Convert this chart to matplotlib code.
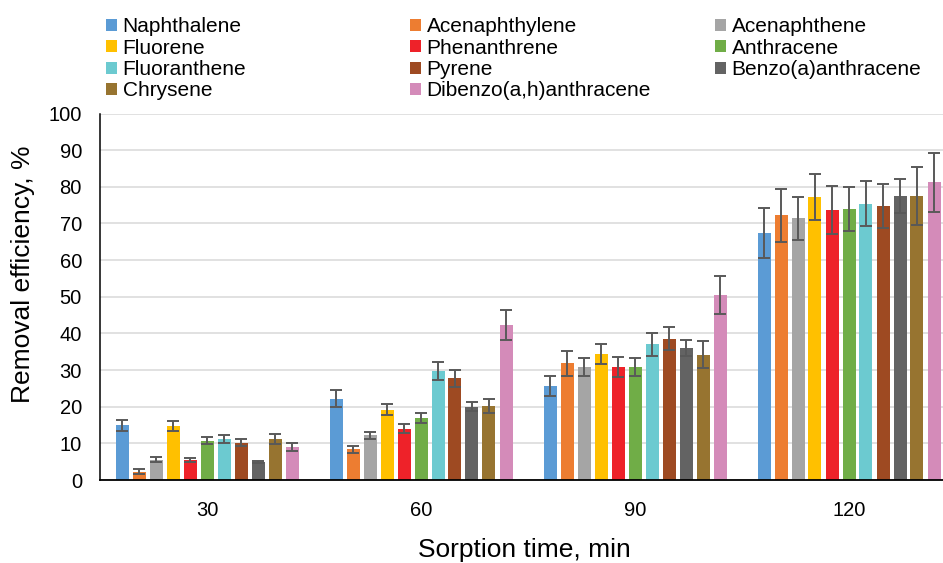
import matplotlib
matplotlib.use("Agg")
import matplotlib.pyplot as plt
import numpy as np

plt.rcParams['font.family'] = ['Liberation Sans', 'DejaVu Sans']

compounds = ["Naphthalene", "Acenaphthylene", "Acenaphthene", "Fluorene",
             "Phenanthrene", "Anthracene", "Fluoranthene", "Pyrene",
             "Benzo(a)anthracene", "Chrysene", "Dibenzo(a,h)anthracene"]
colors = ["#5B9BD5", "#ED7D31", "#A5A5A5", "#FFC000", "#EE2229", "#70AD47",
          "#6CCAD0", "#9E4A22", "#636363", "#977430", "#D48BB9"]

times = ["30", "60", "90", "120"]

eff_30 = [15.0, 2.3, 5.5, 14.8, 5.5, 10.7, 11.2, 10.2, 5.0, 11.2, 9.0]
err_30 = [1.5, 0.6, 0.7, 1.3, 0.6, 1.0, 1.0, 1.0, 0.3, 1.3, 1.0]
eff_60 = [22.2, 8.4, 12.2, 19.2, 14.0, 16.9, 29.8, 27.7, 20.0, 20.2, 42.3]
err_60 = [2.3, 0.9, 1.0, 1.5, 1.3, 1.3, 2.4, 2.2, 1.3, 2.0, 4.2]
eff_90 = [25.7, 31.8, 30.8, 34.4, 30.8, 30.8, 37.0, 38.6, 36.0, 34.2, 50.4]
err_90 = [2.7, 3.4, 2.5, 2.8, 2.8, 2.5, 3.1, 3.2, 2.2, 3.6, 5.2]
eff_120 = [67.5, 72.2, 71.4, 77.2, 73.6, 74.0, 75.4, 74.8, 77.5, 77.5, 81.2]
err_120 = [6.8, 7.3, 5.8, 6.2, 6.6, 6.0, 6.2, 6.1, 4.7, 7.8, 8.1]

eff = np.array([eff_30, eff_60, eff_90, eff_120])
err = np.array([err_30, err_60, err_90, err_120])

W, H = 943, 563
fig = plt.figure(figsize=(W / 100, H / 100), dpi=100)
ax = fig.add_axes([100 / W, (H - 480) / H, 856 / W, (480 - 113.5) / H])

pitch = 17 / 214
width = 13 / 214
xg = np.arange(len(times))
handles = []
for i, name in enumerate(compounds):
    x = xg + (i - 5) * pitch
    b = ax.bar(x, eff[:, i], width=width, color=colors[i], label=name, zorder=2)
    handles.append(b)
    ax.errorbar(x, eff[:, i], yerr=err[:, i], fmt='none', ecolor='#595959',
                elinewidth=1.4, capsize=4.3, capthick=1.4, zorder=3)

ax.set_xlim(-0.5, 3.5)
ax.set_ylim(0, 100)
ax.set_yticks(np.arange(0, 101, 10))
ax.set_xticks(xg)
ax.set_xticklabels(times)
ax.tick_params(axis='both', length=0, labelsize=14.5, colors='black')
ax.tick_params(axis='y', pad=13)
ax.tick_params(axis='x', pad=15)
ax.grid(axis='y', color='#D9D9D9', linewidth=1.1, zorder=0)
ax.set_axisbelow(True)
for s in ['top', 'right']:
    ax.spines[s].set_visible(False)
ax.spines['left'].set_color('black')
ax.spines['left'].set_linewidth(1.1)
ax.spines['bottom'].set_color('black')
ax.spines['bottom'].set_linewidth(1.3)

ax.set_xlabel("Sorption time, min", fontsize=19, va='center')
ax.xaxis.set_label_coords((524 - 100) / 856, (480 - 550) / 366.5)
ax.set_ylabel("Removal efficiency, %", fontsize=19, va='center')
ax.yaxis.set_label_coords((23 - 100) / 856, (480 - 274) / 366.5)

cols = [[0, 3, 6, 9], [1, 4, 7, 10], [2, 5, 8]]
col_x = [106, 410, 715]
for cx, idx in zip(col_x, cols):
    fig.legend([handles[k] for k in idx], [compounds[k] for k in idx],
               loc='upper left', bbox_to_anchor=(cx / W, 1 - 17 / H),
               frameon=False, fontsize=15, handlelength=0.52, handleheight=0.52,
               handletextpad=0.28, labelspacing=0.12, borderpad=0, borderaxespad=0)

fig.savefig("out.png", dpi=100)
